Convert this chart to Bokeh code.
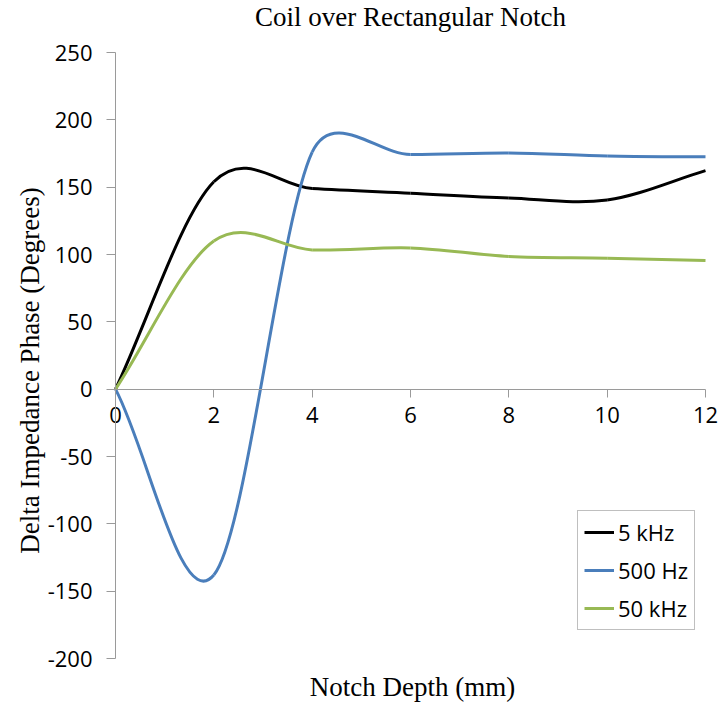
import math
import numpy as np
from bokeh.plotting import figure
from bokeh.models import Range1d, FixedTicker, ColumnDataSource, Legend, LegendItem, Label
from bokeh.embed import file_html
from bokeh.resources import INLINE

# ---- data ----
depth = [0, 2, 4, 6, 8, 10, 12]
phase_5khz = [0, 154, 149, 145.5, 142, 140.5, 162.3]
phase_500hz = [0, -138, 176, 174.2, 175.4, 173.2, 172.5]
phase_50khz = [0, 110, 103.4, 104.9, 98.5, 97.3, 95.5]
series_names = ["5 kHz", "500 Hz", "50 kHz"]
series_colors = ["#000000", "#4a7ebb", "#98b954"]
x_ticks = [0, 2, 4, 6, 8, 10, 12]
y_ticks = [-200, -150, -100, -50, 0, 50, 100, 150, 200, 250]
title_text = "Coil over Rectangular Notch"
x_label = "Notch Depth (mm)"
y_label = "Delta Impedance Phase (Degrees)"

# ---- layout (pixels) ----
W, H = 720, 703
FL, FR, FT, FB = 115, 705, 52, 658      # where the axes' extents sit
XMIN, XMAX, YMIN, YMAX = 0, 12, -200, 250
XS = (FR - FL) / (XMAX - XMIN)
YS = (FB - FT) / (YMAX - YMIN)


def dx(px):
    return XMIN + (px - FL) / XS


def dy(py):
    return YMAX - (py - FT) / YS


SANS = "Open Sans"
SERIF = "Liberation Serif"
AXIS_GREY = "#9a9a9a"
TICK_FS = "22px"
SERIF_FS = "27px"


def smooth_segments(xs, ys):
    """Excel-like smoothed line: cubic Bezier segments whose control points
    are derived from the data points (Catmull-Rom tangents, handles capped
    at half the segment length, computed in screen-proportional space)."""
    P = np.column_stack([np.asarray(xs, float) * XS, np.asarray(ys, float) * YS])
    n = len(P)

    def ctrl(i, j):
        if 0 < i < n - 1:
            T = (P[i + 1] - P[i - 1]) / 6.0
        elif i == 0:
            T = (P[1] - P[0]) / 3.0
        else:
            T = (P[n - 1] - P[n - 2]) / 3.0
        d_seg = np.linalg.norm(P[j] - P[i])
        L = np.linalg.norm(T)
        if L > d_seg / 2.0:
            T = T * (d_seg / 2.0) / L
        sign = 1.0 if j > i else -1.0
        return P[i] + sign * T

    out = {k: [] for k in ["x0", "y0", "x1", "y1", "cx0", "cy0", "cx1", "cy1"]}
    for i in range(n - 1):
        c0 = ctrl(i, i + 1)
        c1 = ctrl(i + 1, i)
        out["x0"].append(xs[i]); out["y0"].append(ys[i])
        out["x1"].append(xs[i + 1]); out["y1"].append(ys[i + 1])
        out["cx0"].append(c0[0] / XS); out["cy0"].append(c0[1] / YS)
        out["cx1"].append(c1[0] / XS); out["cy1"].append(c1[1] / YS)
    return ColumnDataSource(out)


p = figure(width=W, height=H, output_backend="svg", toolbar_location=None,
           x_range=Range1d(dx(0), dx(W)), y_range=Range1d(dy(H), dy(0)),
           min_border_left=0, min_border_right=0,
           min_border_top=0, min_border_bottom=0)
p.title.visible = False
p.outline_line_color = None
p.xgrid.visible = False
p.ygrid.visible = False
p.background_fill_color = "white"
p.border_fill_color = "white"

# x axis crossing at y = 0
xa = p.xaxis[0]
xa.fixed_location = 0
xa.bounds = (XMIN, XMAX)
xa.ticker = FixedTicker(ticks=x_ticks)
xa.major_label_overrides = {t: str(t) for t in x_ticks}
xa.minor_tick_line_color = None
xa.major_tick_out = 8
xa.major_tick_in = 0
xa.axis_line_color = AXIS_GREY
xa.major_tick_line_color = AXIS_GREY
xa.major_label_text_font = SANS
xa.major_label_text_font_size = TICK_FS
xa.major_label_text_color = "#000000"
xa.major_label_standoff = 10

# y axis at x = 0
ya = p.yaxis[0]
ya.fixed_location = 0
ya.bounds = (YMIN, YMAX)
ya.ticker = FixedTicker(ticks=y_ticks)
ya.major_label_overrides = {t: str(t) for t in y_ticks}
ya.minor_tick_line_color = None
ya.major_tick_out = 9
ya.major_tick_in = 0
ya.axis_line_color = AXIS_GREY
ya.major_tick_line_color = AXIS_GREY
ya.major_label_text_font = SANS
ya.major_label_text_font_size = TICK_FS
ya.major_label_text_color = "#000000"
ya.major_label_standoff = 14

# texts
p.add_layout(Label(x=dx(410), y=dy(16), text=title_text, text_align="center",
                   text_baseline="middle", text_font=SERIF, text_font_size=SERIF_FS,
                   text_color="#000000"))
p.add_layout(Label(x=dx(412), y=dy(686), text=x_label, text_align="center",
                   text_baseline="middle", text_font=SERIF, text_font_size=SERIF_FS,
                   text_color="#000000"))
p.add_layout(Label(x=dx(29), y=dy(370), text=y_label, text_align="center",
                   text_baseline="middle", angle=math.pi / 2, text_font=SERIF,
                   text_font_size=SERIF_FS, text_color="#000000"))

items = []
for name, color, vals in zip(series_names, series_colors,
                             [phase_5khz, phase_500hz, phase_50khz]):
    src = smooth_segments(depth, vals)
    r = p.bezier(x0="x0", y0="y0", x1="x1", y1="y1", cx0="cx0", cy0="cy0",
                 cx1="cx1", cy1="cy1", source=src, line_color=color, line_width=3)
    items.append(LegendItem(label=name, renderers=[r]))

legend = Legend(items=items, location=(577, H - 630))
legend.border_line_color = "#7f7f7f"
legend.border_line_width = 1
legend.background_fill_color = "white"
legend.label_text_font = SANS
legend.label_text_font_size = TICK_FS
legend.label_text_color = "#000000"
legend.glyph_width = 30
legend.glyph_height = 20
legend.label_standoff = 4
legend.padding = 6
legend.spacing = 8
legend.margin = 0
p.add_layout(legend)

open("out.html", "w").write(file_html(p, INLINE))
